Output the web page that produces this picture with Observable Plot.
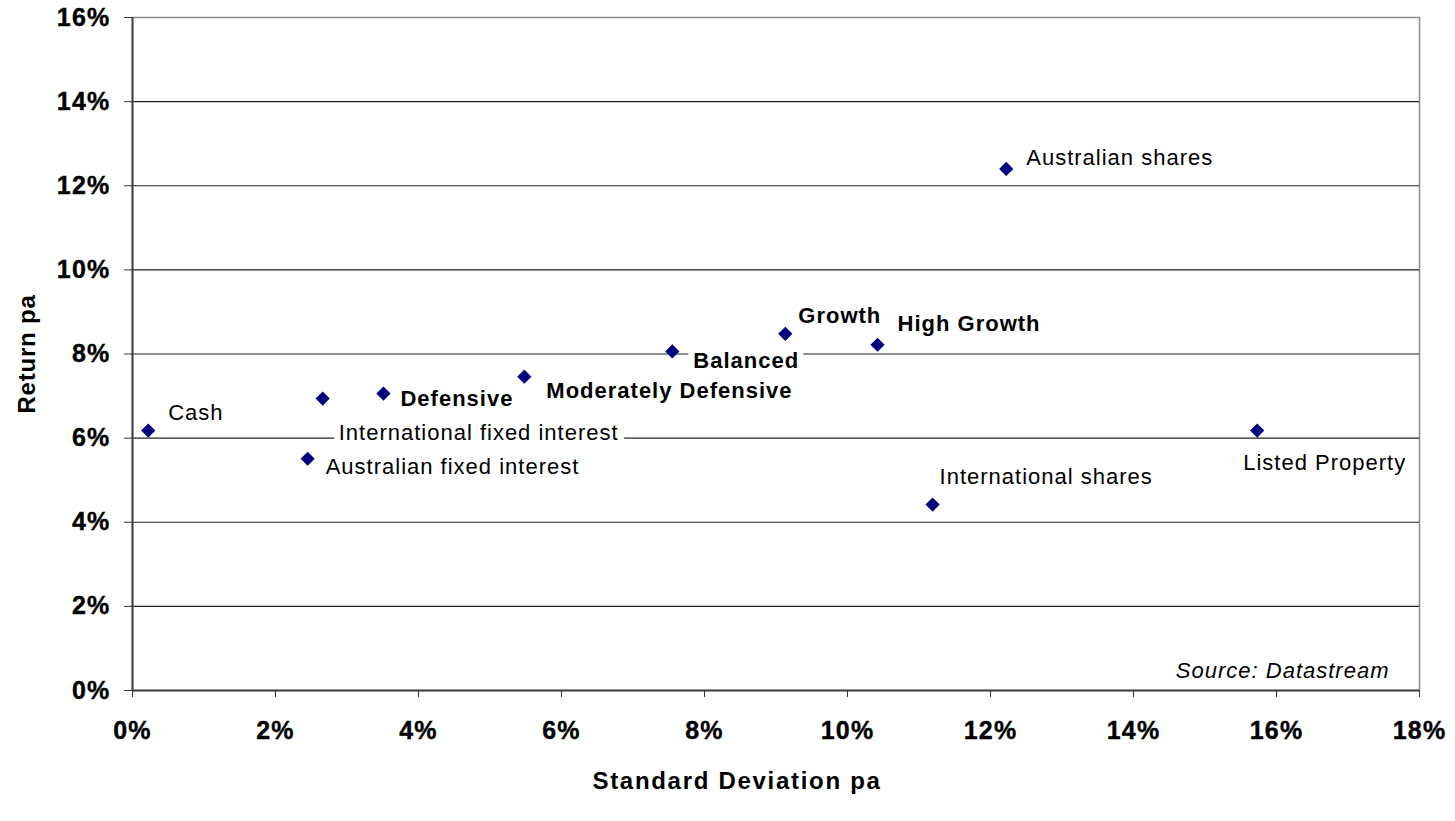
<!DOCTYPE html>
<html>
<head>
<meta charset="utf-8">
<script src="https://cdn.jsdelivr.net/npm/d3@7"></script>
<script src="https://cdn.jsdelivr.net/npm/@observablehq/plot@0.6"></script>
<style>
  html, body { margin: 0; padding: 0; background: #fff; }
  svg { display: block; }
</style>
</head>
<body>
<div id="chart"></div>
<script>
// Data (percent)
const names = ["Cash", "International fixed interest", "Australian fixed interest", "Defensive",
  "Moderately Defensive", "Balanced", "Growth", "High Growth", "Australian shares",
  "International shares", "Listed Property"];
const stdDev = [0.22, 2.66, 2.45, 3.51, 5.48, 7.55, 9.13, 10.42, 12.22, 11.19, 15.73];
const returns = [6.18, 6.94, 5.51, 7.06, 7.46, 8.06, 8.48, 8.22, 12.40, 4.42, 6.18];
const isPortfolio = [false, false, false, true, true, true, true, true, false, false, false];
const xTicks = [0, 2, 4, 6, 8, 10, 12, 14, 16, 18];
const yTicks = [0, 2, 4, 6, 8, 10, 12, 14, 16];
const gridTicks = [2, 4, 6, 8, 10, 12, 14];

// label offsets in pixels (layout only)
const labelOffsets = [[20, -18], [16, 34], [18, 8], [17, 5], [22, 14], [21, 9], [13, -18],
  [20, -21], [20, -11], [7, -28], [-14, 32]];

const data = names.map((n, i) => ({name: n, sd: stdDev[i], ret: returns[i], bold: isPortfolio[i]}));

const labelMarks = data.map((d, i) => Plot.text([d], {
  x: "sd", y: "ret", text: "name",
  dx: labelOffsets[i][0], dy: labelOffsets[i][1],
  textAnchor: "start", lineAnchor: "middle",
  fontSize: 22, fontWeight: d.bold ? "bold" : "normal",
  fill: "#000", stroke: "white", strokeWidth: 13, strokeLinejoin: "miter"
}));

const pct = d => d + "%";

const chart = Plot.plot({
  width: 1455, height: 821,
  marginLeft: 132, marginRight: 36, marginTop: 17, marginBottom: 131,
  style: {fontFamily: "'Liberation Sans', Arial, sans-serif", background: "white", letterSpacing: "1px"},
  x: {domain: [0, 18], axis: null},
  y: {domain: [0, 16], axis: null},
  marks: [
    Plot.frame({stroke: "#888", strokeWidth: 1.5}),
    Plot.ruleY(gridTicks, {stroke: "#222", strokeWidth: 1.2}),
    Plot.ruleX([0], {stroke: "#444", strokeWidth: 2}),
    Plot.ruleY([0], {stroke: "#444", strokeWidth: 2}),
    Plot.axisX(xTicks, {anchor: "bottom", tickSize: 7, tickPadding: 24, tickFormat: pct,
      fontSize: 25, fontWeight: "bold", stroke: "#333", label: null}),
    Plot.axisY(yTicks, {anchor: "left", tickSize: 8, tickPadding: 14, tickFormat: pct,
      fontSize: 25, fontWeight: "bold", stroke: "#333", label: null}),
    ...labelMarks,
    Plot.dot(data, {x: "sd", y: "ret", symbol: "diamond2", r: 6.4, fill: "#000080", stroke: null}),
    Plot.text(["Source: Datastream"], {frameAnchor: "bottom-right", dx: -30, dy: -20,
      textAnchor: "end", lineAnchor: "middle", fontSize: 22, fontStyle: "italic", fill: "#000"}),
    Plot.text(["Return pa"], {frameAnchor: "left", dx: -105, rotate: -90,
      textAnchor: "middle", lineAnchor: "middle", fontSize: 24, fontWeight: "bold", fill: "#000"}),
    Plot.text(["Standard Deviation pa"], {frameAnchor: "bottom", dx: -39, dy: 91,
      textAnchor: "middle", lineAnchor: "middle", fontSize: 24, fontWeight: "bold", fill: "#000"})
  ]
});

// fine letter spacing / size tweaks
const svg = d3.select(chart);
svg.selectAll("text").each(function() {
  const t = d3.select(this);
  const s = t.text();
  if (s === "Standard Deviation pa") t.attr("letter-spacing", "1.7px");
  else if (s === "Return pa") t.attr("letter-spacing", "0.8px");
  else if (/^\d+%$/.test(s)) {
    t.style("font-size", "25px").style("font-weight", "bold").style("letter-spacing", "1.2px")
     .style("stroke", "#000").style("stroke-width", "0.4px");
  }
  else if (t.attr("font-weight") === "bold") t.attr("letter-spacing", "1.3px");
});

document.getElementById("chart").appendChild(chart);
</script>
</body>
</html>
